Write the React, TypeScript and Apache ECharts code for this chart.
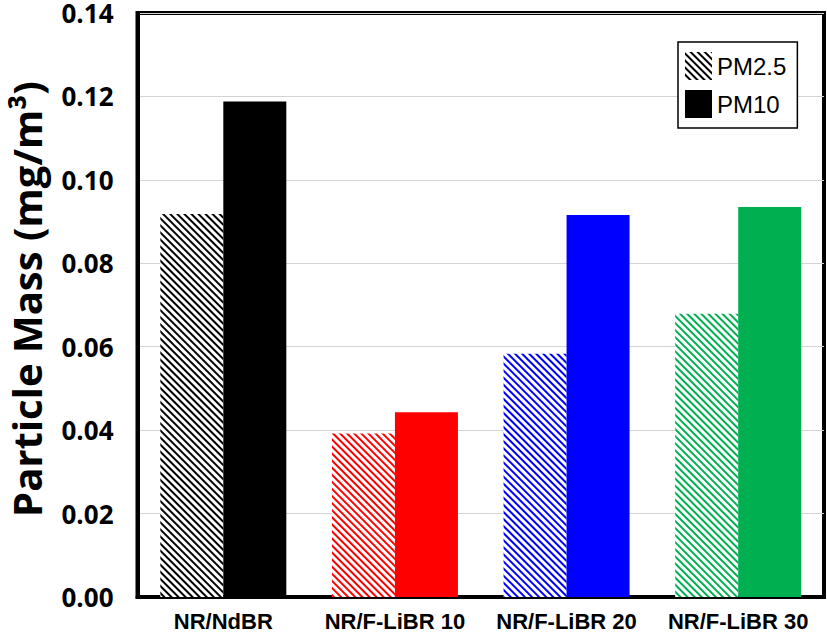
import React, { useEffect, useRef } from "react";
import * as echarts from "echarts";

const categories = ["NR/NdBR", "NR/F-LiBR 10", "NR/F-LiBR 20", "NR/F-LiBR 30"];
const pm25 = [0.0918, 0.0392, 0.0583, 0.0679];
const pm10 = [0.1188, 0.0443, 0.0916, 0.0935];
const groupColors = ["#000000", "#ff0000", "#0000ff", "#00b050"];
const yTicks = [0, 0.02, 0.04, 0.06, 0.08, 0.1, 0.12, 0.14];
const yTitle = "Particle Mass (mg/m³)";

const hatch = (color: string) => ({
  symbol: "rect",
  symbolSize: 1,
  dashArrayX: [[1, 0]],
  dashArrayY: [2, 3],
  rotation: Math.PI / 4,
  color,
  backgroundColor: "#ffffff",
});

export default function App() {
  const ref = useRef<HTMLDivElement>(null);
  useEffect(() => {
    if (!ref.current) return;
    const chart = echarts.init(ref.current, undefined, { renderer: "svg" });
    chart.setOption({
      animation: false,
      backgroundColor: "#ffffff",
      grid: {
        left: 137.5,
        right: 3,
        top: 11.5,
        bottom: 37,
        show: true,
        borderColor: "#000000",
        borderWidth: 4,
        backgroundColor: "transparent",
      },
      legend: {
        orient: "vertical",
        left: 678,
        top: 42,
        padding: [10, 11, 10, 7],
        itemWidth: 27,
        itemHeight: 28,
        itemGap: 10,
        icon: "rect",
        borderColor: "#000000",
        borderWidth: 1.5,
        backgroundColor: "#ffffff",
        textStyle: { fontFamily: "Liberation Sans", fontSize: 24, color: "#000" },
        data: ["PM2.5", "PM10"],
      },
      graphic: [
        {
          type: "text",
          x: 26,
          y: 299,
          rotation: Math.PI / 2,
          style: {
            text: yTitle,
            fontFamily: "Open Sans",
            fontWeight: "bold",
            fontSize: 40,
            lineHeight: 36,
            fill: "#000",
            align: "center",
            verticalAlign: "middle",
          },
        },
      ],
      xAxis: {
        type: "category",
        data: categories,
        axisLine: { show: true, lineStyle: { color: "#000", width: 4 } },
        axisTick: { show: false },
        axisLabel: {
          interval: 0,
          hideOverlap: false,
          fontFamily: "Liberation Sans",
          fontWeight: "bold",
          fontSize: 22,
          color: "#000",
          margin: 13,
        },
      },
      yAxis: {
        type: "value",
        min: 0,
        max: 0.14,
        interval: 0.02,
        axisLine: { show: true, lineStyle: { color: "#000", width: 4 } },
        axisTick: { show: false },
        splitLine: { show: true, lineStyle: { color: "#d4d4d4", width: 1 } },
        axisLabel: {
          fontFamily: "Open Sans",
          fontWeight: "bold",
          fontSize: 26,
          lineHeight: 22,
          color: "#000",
          margin: 24,
          formatter: (v: number) => {
            const t = yTicks.find((x) => Math.abs(x - v) < 1e-9);
            return (t !== undefined ? t : v).toFixed(2);
          },
        },
      },
      series: [
        {
          name: "PM2.5",
          type: "bar",
          barWidth: 63,
          barGap: "0%",
          itemStyle: { color: "#ffffff", decal: hatch("#000000") },
          data: pm25.map((v, i) => ({
            value: v,
            itemStyle: { color: "#ffffff", decal: hatch(groupColors[i]) },
          })),
        },
        {
          name: "PM10",
          type: "bar",
          barWidth: 63,
          barGap: "0%",
          itemStyle: { color: "#000000" },
          data: pm10.map((v, i) => ({ value: v, itemStyle: { color: groupColors[i] } })),
        },
      ],
    });
    return () => chart.dispose();
  }, []);
  return (
    <div
      ref={ref}
      style={{ position: "absolute", left: 0, top: 0, width: 827, height: 634 }}
    />
  );
}
